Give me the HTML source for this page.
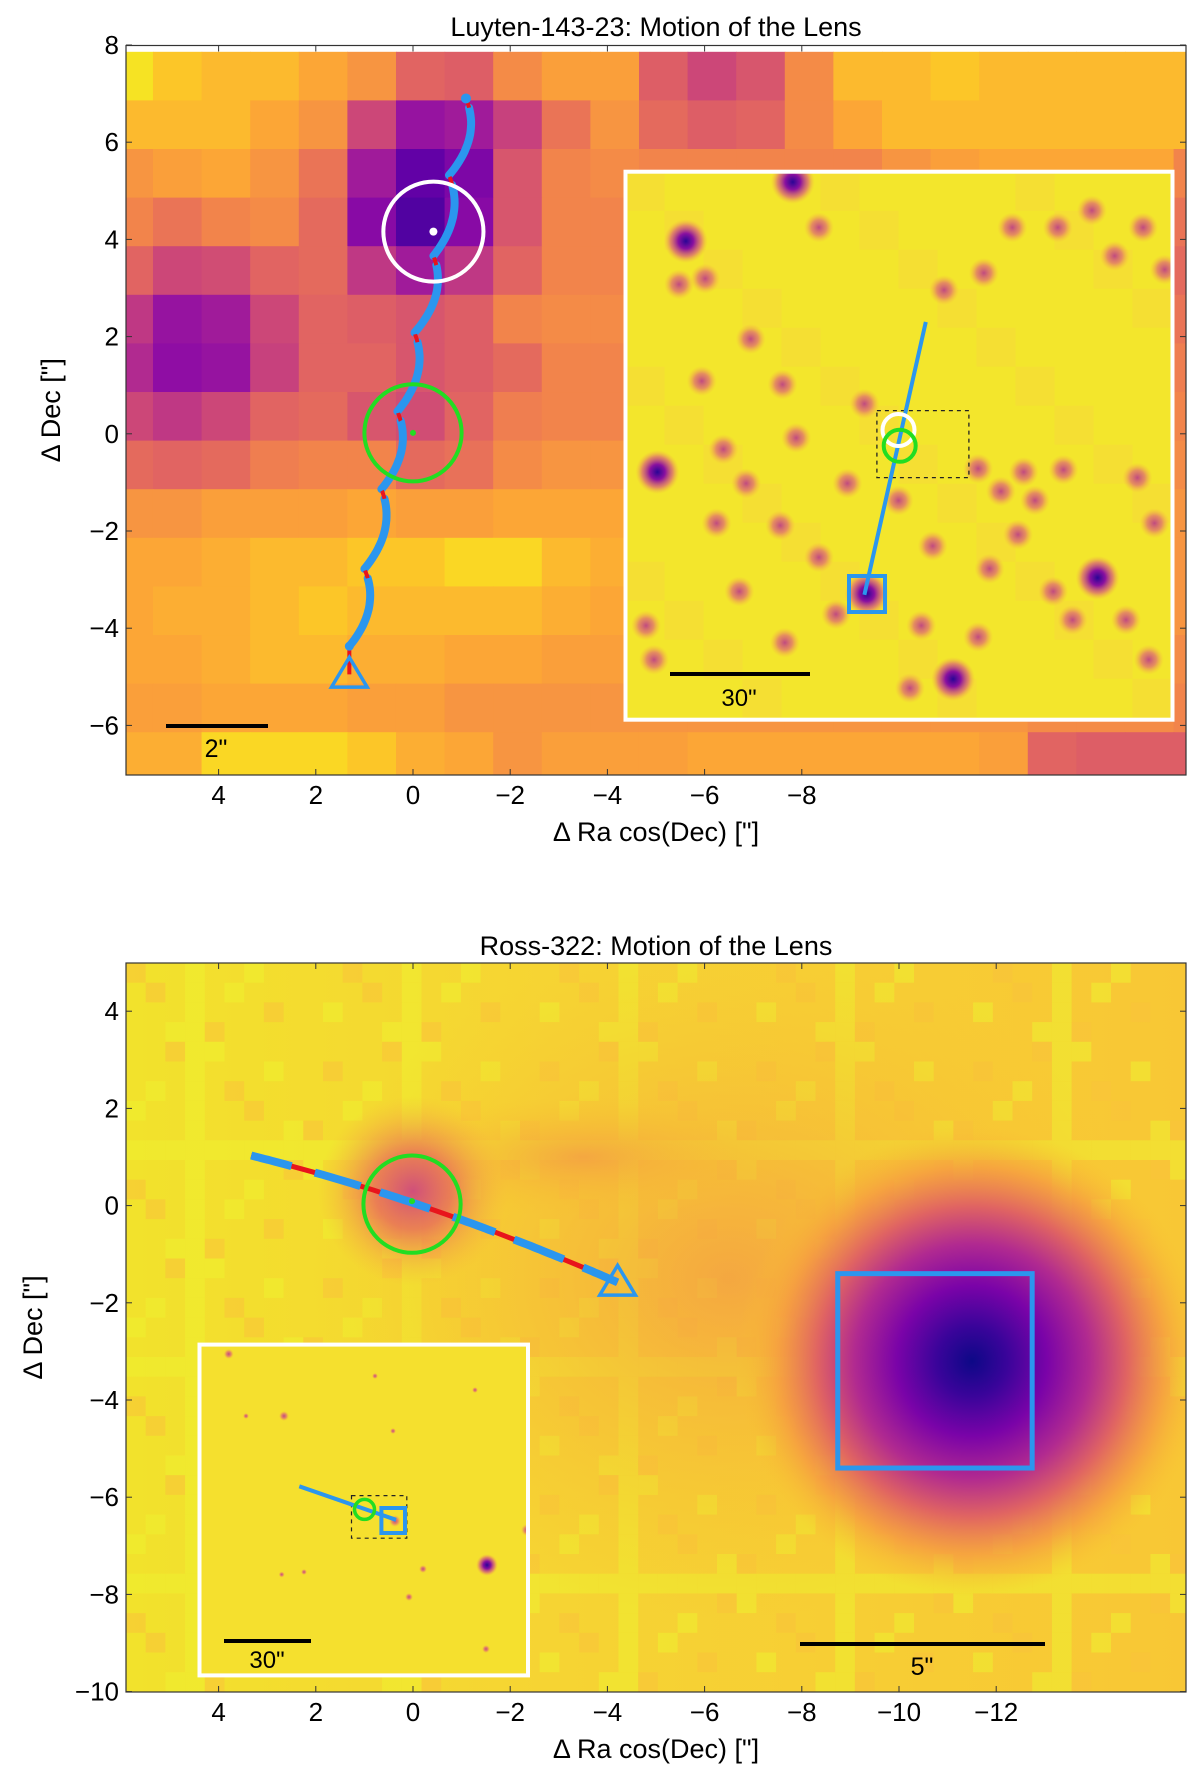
<!DOCTYPE html>
<html><head><meta charset="utf-8"><style>
html,body{margin:0;padding:0;background:#fff;}
svg{display:block;font-family:"Liberation Sans","DejaVu Sans",sans-serif;}
</style></head><body>
<svg id="fig" width="1200" height="1777" viewBox="0 0 1200 1777" xmlns="http://www.w3.org/2000/svg">
<defs>
<clipPath id="clipTop"><rect x="126" y="45.5" width="1060" height="729.5"/></clipPath>
<clipPath id="clipBot"><rect x="126" y="963" width="1060" height="729"/></clipPath>
<clipPath id="clipInsTop"><rect x="625.5" y="171.7" width="547" height="548"/></clipPath>
<clipPath id="clipInsBot"><rect x="199.5" y="1344.6" width="328.5" height="330.8"/></clipPath>
<radialGradient id="starDark"><stop offset="0" stop-color="#2a0595"/><stop offset="0.35" stop-color="#8a10a0"/><stop offset="0.7" stop-color="#d8607a" stop-opacity="0.7"/><stop offset="1" stop-color="#f5b040" stop-opacity="0"/></radialGradient>
<radialGradient id="starPink"><stop offset="0" stop-color="#c04a80"/><stop offset="0.5" stop-color="#e07070" stop-opacity="0.75"/><stop offset="1" stop-color="#f8b040" stop-opacity="0"/></radialGradient>
<radialGradient id="blobBig"><stop offset="0" stop-color="#0d0887"/><stop offset="0.15" stop-color="#3a049a"/><stop offset="0.32" stop-color="#7a03a8"/><stop offset="0.5" stop-color="#b12a90"/><stop offset="0.66" stop-color="#e06462"/><stop offset="0.82" stop-color="#f59a42" stop-opacity="0.8"/><stop offset="1" stop-color="#f8c030" stop-opacity="0"/></radialGradient>
<radialGradient id="blobLens"><stop offset="0" stop-color="#d0507a"/><stop offset="0.4" stop-color="#e8705a" stop-opacity="0.85"/><stop offset="1" stop-color="#f8b040" stop-opacity="0"/></radialGradient>
<radialGradient id="haze"><stop offset="0" stop-color="#f49a45" stop-opacity="0.75"/><stop offset="1" stop-color="#f8c030" stop-opacity="0"/></radialGradient>
<linearGradient id="bgBot" x1="0" x2="1" y1="0" y2="0"><stop offset="0" stop-color="#f2e22c"/><stop offset="0.4" stop-color="#f6d433"/><stop offset="1" stop-color="#f8c735"/></linearGradient>
</defs>
<g id="layer"></g>
</svg>
<script>
// ---------- data ----------
const heatRows = [
 [0.05,0.12,0.15,0.15,0.2,0.25,0.4,0.42,0.28,0.22,0.22,0.42,0.5,0.45,0.28,0.15,0.15,0.12,0.15,0.15,0.15,0.15,0.15],
 [0.15,0.15,0.15,0.2,0.25,0.5,0.68,0.65,0.52,0.35,0.25,0.38,0.42,0.4,0.28,0.2,0.15,0.15,0.15,0.15,0.15,0.15,0.15],
 [0.25,0.22,0.2,0.25,0.35,0.65,0.82,0.75,0.45,0.3,0.28,0.3,0.3,0.3,0.3,0.3,0.25,0.22,0.2,0.2,0.2,0.2,0.3],
 [0.3,0.35,0.3,0.28,0.38,0.72,0.86,0.72,0.45,0.3,0.3,0.3,0.3,0.3,0.3,0.3,0.3,0.3,0.3,0.3,0.3,0.3,0.35],
 [0.4,0.5,0.48,0.4,0.38,0.55,0.65,0.55,0.4,0.3,0.3,0.3,0.3,0.3,0.3,0.3,0.3,0.3,0.3,0.3,0.3,0.3,0.38],
 [0.55,0.68,0.65,0.5,0.4,0.42,0.45,0.42,0.3,0.28,0.28,0.3,0.3,0.3,0.3,0.3,0.3,0.3,0.3,0.3,0.3,0.3,0.35],
 [0.6,0.7,0.68,0.52,0.4,0.4,0.45,0.42,0.38,0.3,0.3,0.3,0.3,0.3,0.3,0.3,0.3,0.3,0.3,0.3,0.3,0.3,0.32],
 [0.5,0.55,0.5,0.4,0.38,0.45,0.48,0.4,0.32,0.3,0.3,0.3,0.3,0.3,0.3,0.3,0.3,0.3,0.3,0.3,0.3,0.3,0.3],
 [0.38,0.4,0.38,0.32,0.3,0.3,0.38,0.36,0.28,0.25,0.25,0.25,0.25,0.25,0.25,0.25,0.25,0.25,0.25,0.25,0.25,0.25,0.28],
 [0.25,0.25,0.22,0.22,0.22,0.2,0.22,0.22,0.2,0.2,0.2,0.2,0.2,0.2,0.2,0.2,0.2,0.2,0.2,0.2,0.2,0.2,0.25],
 [0.2,0.2,0.18,0.15,0.15,0.12,0.12,0.08,0.08,0.15,0.18,0.2,0.2,0.2,0.2,0.2,0.2,0.2,0.2,0.2,0.2,0.2,0.25],
 [0.2,0.18,0.18,0.15,0.12,0.15,0.15,0.15,0.15,0.18,0.2,0.2,0.2,0.2,0.2,0.2,0.2,0.2,0.2,0.2,0.2,0.2,0.25],
 [0.2,0.2,0.18,0.15,0.15,0.18,0.18,0.2,0.2,0.22,0.22,0.22,0.22,0.22,0.22,0.22,0.22,0.22,0.22,0.22,0.22,0.22,0.28],
 [0.22,0.22,0.2,0.2,0.2,0.22,0.22,0.25,0.25,0.25,0.25,0.25,0.25,0.25,0.25,0.25,0.25,0.25,0.25,0.28,0.28,0.28,0.3],
 [0.18,0.18,0.08,0.08,0.08,0.12,0.18,0.2,0.25,0.22,0.22,0.22,0.2,0.2,0.2,0.2,0.2,0.2,0.22,0.4,0.42,0.42,0.42]
];
const topCuspX = [-1.09,-0.74,-0.42,-0.03,0.32,0.65,1.0,1.31];
const topCuspY = [6.9,5.32,3.66,2.08,0.46,-1.14,-2.78,-4.37];
const topEnd = [1.31,-4.95];
const topSourceCircle = [-0.42,4.16,1.03];
const topLensCircle = [0.0,0.02,1.0];
const botTrackStart = [3.33,1.03];
const botTrackEnd = [-4.21,-1.58];
const botRedGaps = [[2.5,2.02],[1.08,0.68],[-0.35,-0.82],[-1.69,-2.08],[-3.1,-3.5]];
const botLensCircle = [0.02,0.03,1.0];
const botSquare = [-8.74,-1.4,-12.74,-5.4];
const xTicksTop = [4,2,0,-2,-4,-6,-8];
const yTicksTop = [8,6,4,2,0,-2,-4,-6];
const xTicksBot = [4,2,0,-2,-4,-6,-8,-10,-12];
const yTicksBot = [4,2,0,-2,-4,-6,-8,-10];
const insetStarsTop = [[697,160,1],[603,212,1],[1024,237,0],[597,250,0],[660,298,0],[688,338,0],[578,415,1],[636,395,0],[656,425,0],[630,460,0],[686,462,0],[720,490,0],[860,412,0],[900,415,0],[935,413,0],[880,432,0],[965,508,1],[895,470,0],[910,440,0],[838,597,1],[800,605,0],[568,550,0],[575,580,0],[690,565,0],[810,550,0],[926,520,0],[943,545,0],[990,545,0],[1010,580,0],[720,200,0],[830,255,0],[865,240,0],[890,200,0],[930,200,0],[960,185,0],[980,225,0],[1005,200,0],[760,355,0],[700,385,0],[617,335,0],[745,425,0],[790,440,0],[820,480,0],[870,500,0],[650,520,0],[735,540,0],[860,560,0],[1000,420,0],[1015,460,0],[620,245,0],[762,522,1]];
const insetStarsBot = [[228.7,1354,5],[284,1416,5],[395,1521,6],[487,1565,11],[423,1569,4],[409,1597,4],[486,1649,4],[375,1376,3],[393,1431,3],[281.7,1574.5,3],[246,1416,3],[304,1572,3],[475,1390,3],[527,1530,6]];

// ---------- helpers ----------
const NS="http://www.w3.org/2000/svg";
const layer=document.getElementById('layer');
const K=48.6, X0=413, Y0t=433.8, Y0b=1205.6;
const sxT=x=>X0-x*K, syT=y=>Y0t-y*K, syB=y=>Y0b-y*K;
function el(tag,attrs,parent){const e=document.createElementNS(NS,tag);for(const k in attrs)e.setAttribute(k,attrs[k]);(parent||layer).appendChild(e);return e;}
const stops=[[0,[13,8,135]],[0.1,[65,4,157]],[0.2,[106,0,168]],[0.3,[143,13,164]],[0.4,[177,42,144]],[0.5,[204,71,120]],[0.6,[225,100,98]],[0.7,[242,132,75]],[0.8,[252,166,54]],[0.9,[252,206,37]],[1,[240,249,33]]];
function plasma(v){const t=Math.max(0,Math.min(1,1-v));for(let i=1;i<stops.length;i++){if(t<=stops[i][0]){const a=stops[i-1],b=stops[i],f=(t-a[0])/(b[0]-a[0]);const c=a[1].map((q,j)=>Math.round(q+(b[1][j]-q)*f));return `rgb(${c})`;}}return 'rgb(240,249,33)';}

// ---------- top panel ----------
const gTop=el('g',{'clip-path':'url(#clipTop)'});


heatRows.forEach((row,r)=>row.forEach((v,c)=>{
  const cell=el('rect',{x:sxT(6.35-c),y:syT(7.86-r),width:K+0.6,height:K+0.6,fill:plasma(v)},gTop);
  
  
}));
const insT=el('g',{'clip-path':'url(#clipInsTop)'});


el('rect',{x:625.5,y:171.7,width:547,height:548,fill:'#f3e62c'},insT);
for(let i=0;i<14;i++){for(let j=0;j<14;j++){if((i*7+j*3)%5===0)el('rect',{x:625.5+i*39,y:171.7+j*39,width:39,height:39,fill:'#f7d83a',opacity:0.5},insT);}}
insetStarsTop.forEach(s=>{const c=el('circle',{cx:s[0]*1.1374,cy:s[1]*1.1374,r:s[2]?22:15,fill:s[2]?'url(#starDark)':'url(#starPink)'},insT);});
el('rect',{x:876.9,y:410.6,width:92,height:67,fill:'none',stroke:'#222','stroke-width':1.3,'stroke-dasharray':'4,4'},insT);
el('line',{x1:925.8,y1:321.9,x2:864.4,y2:594.8,stroke:'#2b96ee','stroke-width':4},insT);
el('circle',{cx:898.5,cy:430,r:16,fill:'none',stroke:'#fff','stroke-width':4},insT);
el('circle',{cx:899.7,cy:445.8,r:16,fill:'none',stroke:'#22dd22','stroke-width':4},insT);
el('rect',{x:849,y:576,width:36,height:36,fill:'none',stroke:'#2b96ee','stroke-width':4},insT);
el('line',{x1:670,y1:674,x2:810,y2:674,stroke:'#000','stroke-width':4},insT);
let t=el('text',{x:739,y:706,'font-size':24,'text-anchor':'middle',fill:'#000'},insT);t.textContent='30"';
el('rect',{x:625.5,y:171.7,width:547,height:548,fill:'none',stroke:'#fff','stroke-width':4});

const gTr=el('g',{'clip-path':'url(#clipTop)'});


function qpt(p0,c,p1,u){return [(1-u)*(1-u)*p0[0]+2*(1-u)*u*c[0]+u*u*p1[0],(1-u)*(1-u)*p0[1]+2*(1-u)*u*c[1]+u*u*p1[1]];}
function qpath(p0,c,p1,u0,u1){let d='';for(let k=0;k<=20;k++){const u=u0+(u1-u0)*k/20;const p=qpt(p0,c,p1,u);d+=(k?'L':'M')+sxT(p[0]).toFixed(1)+','+syT(p[1]).toFixed(1);}return d;}
for(let i=0;i<topCuspX.length-1;i++){
  const p0=[topCuspX[i],topCuspY[i]],p1=[topCuspX[i+1],topCuspY[i+1]];
  const c=[(p0[0]+p1[0])/2-0.5,(p0[1]+p1[1])/2];
  const b=el('path',{d:qpath(p0,c,p1,0.12,1),fill:'none',stroke:'#2b96ee','stroke-width':8,'stroke-linecap':'round'},gTr);
  
  
  const rd=el('path',{d:qpath(p0,c,p1,0.02,0.12),fill:'none',stroke:'#e8141c','stroke-width':4},gTr);
  
  
}
{const n=topCuspX.length-1;
el('line',{x1:sxT(topCuspX[n]),y1:syT(topCuspY[n]),x2:sxT(topEnd[0]),y2:syT(topEnd[1]),stroke:'#e8141c','stroke-width':4},gTr);
el('circle',{cx:sxT(topCuspX[n]),cy:syT(topCuspY[n]),r:4.5,fill:'#2b96ee'},gTr);
el('circle',{cx:sxT(topCuspX[0]),cy:syT(topCuspY[0]),r:5,fill:'#2b96ee'},gTr);}
function tri(x,y,s,parent){const e=el('polygon',{points:`${x},${y-s} ${x-s*1.05},${y+s*0.75} ${x+s*1.05},${y+s*0.75}`,fill:'none',stroke:'#2b96ee','stroke-width':3.5},parent);return e;}
let tr=tri(sxT(topEnd[0]),syT(topEnd[1]),17,gTr);
let sc=el('circle',{cx:sxT(topSourceCircle[0]),cy:syT(topSourceCircle[1]),r:topSourceCircle[2]*K,fill:'none',stroke:'#fff','stroke-width':4},gTr);
el('circle',{cx:sxT(topSourceCircle[0]),cy:syT(topSourceCircle[1]),r:4,fill:'#fff'},gTr);
let lc=el('circle',{cx:sxT(topLensCircle[0]),cy:syT(topLensCircle[1]),r:topLensCircle[2]*K,fill:'none',stroke:'#22dd22','stroke-width':4},gTr);
el('circle',{cx:sxT(topLensCircle[0]),cy:syT(topLensCircle[1]),r:3,fill:'#22dd22'},gTr);
el('line',{x1:166,y1:726,x2:268,y2:726,stroke:'#000','stroke-width':4});
t=el('text',{x:216,y:757,'font-size':25,'text-anchor':'middle'});t.textContent='2"';

// ---------- bottom panel ----------
const gBot=el('g',{'clip-path':'url(#clipBot)'});


el('rect',{x:126,y:963,width:1060,height:729,fill:'url(#bgBot)'},gBot);
for(let i=0;i<54;i++){for(let j=0;j<37;j++){const h=(i*37+j*71+i*j*13)%11;if(h<3)el('rect',{x:126+i*19.7,y:963+j*19.7,width:19.7,height:19.7,fill:h===0?'#f9c23a':'#eef030',opacity:0.55},gBot);}}
el('ellipse',{cx:sxT(-6.5),cy:syB(-1.5),rx:420,ry:340,fill:'url(#haze)'},gBot);
el('ellipse',{cx:sxT(-3.5),cy:syB(1),rx:200,ry:60,fill:'url(#haze)'},gBot);
el('circle',{cx:sxT(-11.5),cy:syB(-3.2),r:235,fill:'url(#blobBig)'},gBot);
el('circle',{cx:sxT(0),cy:syB(0.3),r:95,fill:'url(#blobLens)'},gBot);
const gTb=el('g',{'clip-path':'url(#clipBot)'});


const bp0=botTrackStart,bp1=botTrackEnd,bc=[(bp0[0]+bp1[0])/2,(bp0[1]+bp1[1])/2+0.36];
const uOf=x=>(bp0[0]-x)/(bp0[0]-bp1[0]);
function qpathB(u0,u1){let d='';for(let k=0;k<=12;k++){const u=u0+(u1-u0)*k/12;const p=qpt(bp0,bc,bp1,u);d+=(k?'L':'M')+sxT(p[0]).toFixed(1)+','+syB(p[1]).toFixed(1);}return d;}
el('path',{d:qpathB(0,1),fill:'none',stroke:'#e8141c','stroke-width':5},gTb);
let prev=0;
botRedGaps.concat([[bp1[0],bp1[0]]]).forEach(g=>{const u1=uOf(g[0]);const p=el('path',{d:qpathB(prev,u1),fill:'none',stroke:'#2b96ee','stroke-width':8},gTb);prev=uOf(g[1]);});
tr=tri(sxT(bp1[0]),syB(bp1[1]),17,gTb);
lc=el('circle',{cx:sxT(botLensCircle[0]),cy:syB(botLensCircle[1]),r:botLensCircle[2]*K,fill:'none',stroke:'#22dd22','stroke-width':4},gTb);
el('circle',{cx:sxT(botLensCircle[0]),cy:syB(botLensCircle[1])-3,r:3,fill:'#22dd22'},gTb);
const sq=el('rect',{x:sxT(botSquare[0]),y:syB(botSquare[1]),width:sxT(botSquare[2])-sxT(botSquare[0]),height:syB(botSquare[3])-syB(botSquare[1]),fill:'none',stroke:'#2b96ee','stroke-width':5},gTb);

el('line',{x1:800,y1:1644,x2:1045,y2:1644,stroke:'#000','stroke-width':4});
t=el('text',{x:922,y:1675,'font-size':25,'text-anchor':'middle'});t.textContent='5"';
const insB=el('g',{'clip-path':'url(#clipInsBot)'});


el('rect',{x:199.5,y:1344.6,width:328.5,height:330.8,fill:'#f5e02e'},insB);
insetStarsBot.forEach(s=>{const c=el('circle',{cx:s[0],cy:s[1],r:s[2],fill:s[2]>8?'url(#starDark)':'url(#starPink)'},insB);});
el('rect',{x:351.5,y:1495.6,width:55.3,height:42.6,fill:'none',stroke:'#222','stroke-width':1.2,'stroke-dasharray':'4,4'},insB);
el('line',{x1:299.3,y1:1486.3,x2:396,y2:1519.8,stroke:'#2b96ee','stroke-width':4},insB);
el('circle',{cx:364.5,cy:1509.4,r:10,fill:'none',stroke:'#22dd22','stroke-width':3.5},insB);
el('rect',{x:381.4,y:1508,width:23.6,height:25,fill:'none',stroke:'#2b96ee','stroke-width':4},insB);
el('line',{x1:224,y1:1641,x2:311,y2:1641,stroke:'#000','stroke-width':4},insB);
t=el('text',{x:267,y:1668,'font-size':24,'text-anchor':'middle'},insB);t.textContent='30"';
el('rect',{x:199.5,y:1344.6,width:328.5,height:330.8,fill:'none',stroke:'#fff','stroke-width':4});

// ---------- axes ----------
function axes(top,bottom,sy,xt,yt,title,titleY,name){
  const g=el('g',{});
  
  
  el('rect',{x:126,y:top,width:1060,height:bottom-top,fill:'none',stroke:'#333','stroke-width':1.2},g);
  xt.forEach(v=>{const x=sxT(v);el('line',{x1:x,y1:bottom,x2:x,y2:bottom-6,stroke:'#333'},g);el('line',{x1:x,y1:top,x2:x,y2:top+6,stroke:'#333'},g);
    const l=el('text',{x:x,y:bottom+29,'font-size':26,'text-anchor':'middle'},g);l.textContent=String(v).replace('-','\u2212');});
  yt.forEach(v=>{const y=sy(v);el('line',{x1:126,y1:y,x2:132,y2:y,stroke:'#333'},g);el('line',{x1:1186,y1:y,x2:1180,y2:y,stroke:'#333'},g);
    const l=el('text',{x:119,y:y+9,'font-size':26,'text-anchor':'end'},g);l.textContent=String(v).replace('-','\u2212');});
  const tt=el('text',{x:656,y:titleY,'font-size':27,'text-anchor':'middle'},g);tt.textContent=title;
  const xl=el('text',{x:656,y:bottom+66,'font-size':27,'text-anchor':'middle'},g);xl.textContent='\u0394 Ra cos(Dec) ["]';
  const yc=(top+bottom)/2;
  const yl=el('text',{x:0,y:0,'font-size':27,'text-anchor':'middle',transform:`translate(${name==='top-axes'?60:42},${yc}) rotate(-90)`},g);yl.textContent='\u0394 Dec ["]';
}
axes(45.5,775,syT,xTicksTop,yTicksTop,'Luyten-143-23: Motion of the Lens',36,'top-axes');
axes(963,1692,syB,xTicksBot,yTicksBot,'Ross-322: Motion of the Lens',955,'bottom-axes');
</script>
</body></html>
